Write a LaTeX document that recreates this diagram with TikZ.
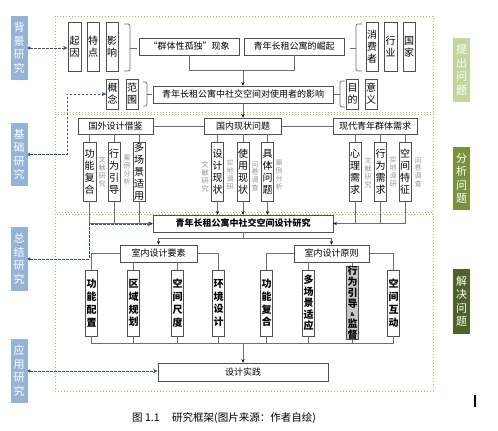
\documentclass[tikz,border=0pt]{standalone}
\usepackage{fontspec}
\newfontfamily\cjk{Noto Sans CJK SC}
\usetikzlibrary{arrows.meta}
\definecolor{lblue}{RGB}{149,179,215}
\definecolor{lgreen}{RGB}{195,214,155}
\definecolor{mgreen}{RGB}{119,147,60}
\definecolor{dgreen}{RGB}{79,98,40}
\definecolor{boxc}{RGB}{80,80,80}
\definecolor{linec}{RGB}{110,110,110}
\definecolor{notec}{RGB}{150,150,150}
\definecolor{dblue}{RGB}{50,85,140}
\definecolor{framec}{RGB}{175,190,80}
\begin{document}
\begin{tikzpicture}[x=1pt,y=-1pt,
  box/.style={draw=boxc, line width=0.7pt, inner sep=0pt, fill=white, align=center},
  hbox/.style={box, font=\cjk\fontsize{9}{11}\selectfont},
  vbox/.style={box, font=\cjk\fontsize{10}{12}\selectfont},
  bvbox/.style={box, font=\cjk\bfseries\fontsize{10}{12.8}\selectfont},
  note/.style={inner sep=0pt, align=center, text=notec, font=\cjk\fontsize{7}{7.8}\selectfont},
  lab/.style={inner sep=0pt, align=center, text=white, minimum width=17, font=\cjk\fontsize{11}{13.5}\selectfont},
  ln/.style={draw=linec, line width=0.7pt},
  arr/.style={ln, -{Stealth[length=3.5pt,width=3.2pt,color=black]}},
  dasharr/.style={draw=dblue, dash pattern=on 2.5pt off 1.5pt, line width=0.9pt, {Circle[length=3pt]}-{Stealth[length=4.5pt,width=4pt]}},
  frame/.style={draw=framec, line width=1pt, dotted},
  brk/.style={ln, rounded corners=2pt}
]
\useasboundingbox (0,0) rectangle (498,431);
\fill[white] (0,0) rectangle (498,431);

% frames
\draw[frame] (55,16) rectangle (433,112);
\draw[frame] (55,114) rectangle (433,212);
\draw[frame] (55,214) rectangle (433,391);

% side labels
\node[lab, fill=lblue, minimum height=64] (bj) at (19,48) {背\\景\\研\\究};
\node[lab, fill=lblue, minimum height=63] (jc) at (19,154.5) {基\\础\\研\\究};
\node[lab, fill=lblue, minimum height=64] (zj) at (19,259) {总\\结\\研\\究};
\node[lab, fill=lblue, minimum height=64] (yy) at (19,371) {应\\用\\研\\究};
\node[lab, fill=lgreen, minimum height=64] (tc) at (461.5,70) {提\\出\\问\\题};
\node[lab, fill=mgreen, minimum height=63] (fx) at (461.5,178.5) {分\\析\\问\\题};
\node[lab, fill=dgreen, minimum height=65] (jj) at (461.5,301.5) {解\\决\\问\\题};

% top section
\node[vbox, minimum width=13, minimum height=49] (qiyin) at (74.5,46.5) {起\\因};
\node[vbox, minimum width=12, minimum height=49] (tedian) at (93,46.5) {特\\点};
\node[vbox, minimum width=12, minimum height=49] (yingx) at (112,46.5) {影\\响};
\node[hbox, minimum width=100, minimum height=17] (qunti) at (189,46.5) {“群体性孤独”现象};
\node[hbox, minimum width=100, minimum height=17] (jueqi) at (294,46.5) {青年长租公寓的崛起};
\node[vbox, minimum width=12, minimum height=49] (xfz) at (372,46.5) {消\\费\\者};
\node[vbox, minimum width=13, minimum height=49] (hangye) at (390.5,46.5) {行\\业};
\node[vbox, minimum width=12, minimum height=49] (guojia) at (409,46.5) {国\\家};
\node[vbox, minimum width=12, minimum height=30] (gainian) at (112.5,94) {概\\念};
\node[vbox, minimum width=12, minimum height=30] (fanwei) at (132,94) {范\\围};
\node[hbox, minimum width=180, minimum height=17] (mid) at (243,94.5) {青年长租公寓中社交空间对使用者的影响};
\node[vbox, minimum width=12, minimum height=30] (mudi) at (352.5,94) {目\\的};
\node[vbox, minimum width=12, minimum height=30] (yiyi) at (371,94) {意\\义};

% brackets
\draw[brk] (124,24) -- (130,24) -- (130,71) -- (124,71);
\draw[ln] (130,48) -- (137,48);
\draw[brk] (362,24) -- (356,24) -- (356,71) -- (362,71);
\draw[ln] (350,48) -- (356,48);
\draw[brk] (143,82) -- (147,82) -- (147,106) -- (143,106);
\draw[ln] (147,94) -- (152,94);
\draw[brk] (345,81) -- (340,81) -- (340,107) -- (345,107);
\draw[ln] (334,94) -- (340,94);

% merge to mid
\path (mid.north) ++(0,-15) coordinate (m1);
\draw[ln] (qunti.south) |- (m1);
\draw[ln] (jueqi.south) |- (m1);
\draw[arr] (m1) -- (mid.north);

% second section
\node[hbox, minimum width=75, minimum height=16] (guowai) at (115.5,126) {国外设计借鉴};
\node[hbox, minimum width=77, minimum height=16] (guonei) at (243,126) {国内现状问题};
\node[hbox, minimum width=84, minimum height=16] (xiandai) at (375,126) {现代青年群体需求};
\draw[arr] (mid.south) -- (guonei.north);
\draw[ln] (guowai.east) -- (guonei.west);
\draw[ln] (guonei.east) -- (xiandai.west);

\node[vbox, minimum width=13, minimum height=59] (gnfh1) at (89.5,171.5) {功\\能\\复\\合};
\node[vbox, minimum width=12, minimum height=59] (xwyd1) at (114,171.5) {行\\为\\引\\导};
\node[vbox, minimum width=12, minimum height=59] (dcj) at (139,171.5) {多\\场\\景\\适\\用};
\node[vbox, minimum width=12, minimum height=59] (sjxz) at (217.5,171.5) {设\\计\\现\\状};
\node[vbox, minimum width=12, minimum height=59] (syxz) at (243,171.5) {使\\用\\现\\状};
\node[vbox, minimum width=12, minimum height=59] (jtwt) at (267.5,171.5) {具\\体\\问\\题};
\node[vbox, minimum width=12, minimum height=59] (xlxq) at (355,171.5) {心\\理\\需\\求};
\node[vbox, minimum width=12, minimum height=59] (xwxq) at (380.5,171.5) {行\\为\\需\\求};
\node[vbox, minimum width=12, minimum height=59] (kjtz) at (405,171.5) {空\\间\\特\\征};

\node[note] (n1) at (102,172) {文\\献\\研\\究};
\node[note] (n2) at (127,170) {案\\例\\分\\析};
\node[note] (n3) at (205,177) {文\\献\\研\\究};
\node[note] (n4) at (230,175) {实\\地\\调\\研};
\node[note] (n5) at (255,176) {问\\卷\\调\\查};
\node[note] (n6) at (279,175) {案\\例\\分\\析};
\node[note] (n7) at (368,173) {文\\献\\研\\究};
\node[note] (n8) at (393,172) {实\\地\\调\\研};
\node[note] (n9) at (418,172) {问\\卷\\调\\查};

\foreach \c in {gnfh1,xwyd1,dcj}{\draw[ln] (\c.north) -- (\c.north |- guowai.south);}
\foreach \c in {sjxz,syxz,jtwt}{\draw[ln] (\c.north) -- (\c.north |- guonei.south);}
\foreach \c in {xlxq,xwxq,kjtz}{\draw[ln] (\c.north) -- (\c.north |- xiandai.south);}

% research box
\node[hbox, font=\cjk\bfseries\fontsize{9}{11}\selectfont, minimum width=180, minimum height=17] (yanjiu) at (243,223.5) {青年长租公寓中社交空间设计研究};

\draw[arr] (gnfh1.south) |- (yanjiu.west);
\draw[ln] (xwyd1.south) -- (xwyd1.south |- yanjiu.west);
\draw[ln] (dcj.south) -- (dcj.south |- yanjiu.west);
\foreach \c in {sjxz,syxz,jtwt}{\draw[arr] (\c.south) -- (\c.south |- yanjiu.north);}
\draw[arr] (kjtz.south) |- (yanjiu.east);
\draw[ln] (xlxq.south) -- (xlxq.south |- yanjiu.east);
\draw[ln] (xwxq.south) -- (xwxq.south |- yanjiu.east);

% design elements / principles
\node[hbox, minimum width=77, minimum height=17] (yaosu) at (158.5,253.5) {室内设计要素};
\node[hbox, minimum width=75, minimum height=17] (yuanze) at (331.5,253.5) {室内设计原则};
\path (yanjiu.south) ++(0,6) coordinate (j2);
\draw[ln] (yanjiu.south) -- (j2);
\draw[arr] (j2) -| (yaosu.north);
\draw[arr] (j2) -| (yuanze.north);

\node[bvbox, minimum width=12, minimum height=66] (gnpz) at (91.5,303) {功\\能\\配\\置};
\node[bvbox, minimum width=12, minimum height=66] (qygh) at (133.5,303) {区\\域\\规\\划};
\node[bvbox, minimum width=12, minimum height=66] (kjcd) at (177.5,303) {空\\间\\尺\\度};
\node[bvbox, minimum width=12, minimum height=66] (hjsj) at (218.5,303) {环\\境\\设\\计};
\node[bvbox, minimum width=12, minimum height=66] (gnfh2) at (266.5,303) {功\\能\\复\\合};
\node[bvbox, minimum width=12, minimum height=66, font=\cjk\bfseries\fontsize{10}{11.6}\selectfont] (dcjsy) at (308.5,303) {多\\场\\景\\适\\应};
\node[bvbox, minimum width=12, minimum height=66, fill=black!22, font=\cjk\bfseries\fontsize{10}{11}\selectfont] (xwyd2) at (352.5,303) {行\\为\\引\\导\\[-2pt]{\fontsize{5}{6}\selectfont\&}\\监\\督};
\node[bvbox, minimum width=12, minimum height=66] (kjhd) at (393.5,303) {空\\间\\互\\动};

\draw[ln] (yaosu.west) -| (gnpz.north);
\draw[ln] (yaosu.east) -| (hjsj.north);
\draw[ln] (qygh.north) -- (qygh.north |- yaosu.south);
\draw[ln] (kjcd.north) -- (kjcd.north |- yaosu.south);
\draw[ln] (yuanze.west) -| (gnfh2.north);
\draw[ln] (yuanze.east) -| (kjhd.north);
\draw[ln] (dcjsy.north) -- (dcjsy.north |- yuanze.south);
\draw[ln] (xwyd2.north) -- (xwyd2.north |- yuanze.south);

% practice
\node[hbox, minimum width=170, minimum height=18] (shijian) at (243,372) {设计实践};
\path (shijian.north) ++(0,-19) coordinate (j3);
\draw[ln] (gnpz.south) |- (j3);
\draw[ln] (kjhd.south) |- (j3);
\foreach \c in {qygh,kjcd,hjsj,gnfh2,dcjsy,xwyd2}{\draw[ln] (\c.south) -- (\c.south |- j3);}
\draw[arr] (j3) -- (shijian.north);

% dashed research arrows
\draw[dasharr] (bj.east) -- (bj.east -| qiyin.west);
\coordinate (c2) at (67,94);
\draw[dasharr] (jc.east) -| (c2) -- (gainian.west);
\coordinate (c3) at (89,224);
\draw[dasharr] (zj.east) -| (c3) -- (c3 -| yanjiu.west);
\draw[dasharr] (yy.east) -- (yy.east -| shijian.west);

% caption
\node[inner sep=0pt, font=\cjk\fontsize{10.5}{12}\selectfont] (cap) at (224,418) {图 1.1\hspace{1.2em}研究框架(图片来源：作者自绘)};
\draw[line width=1.8pt] (475,395) -- (475,407);
\end{tikzpicture}
\end{document}
